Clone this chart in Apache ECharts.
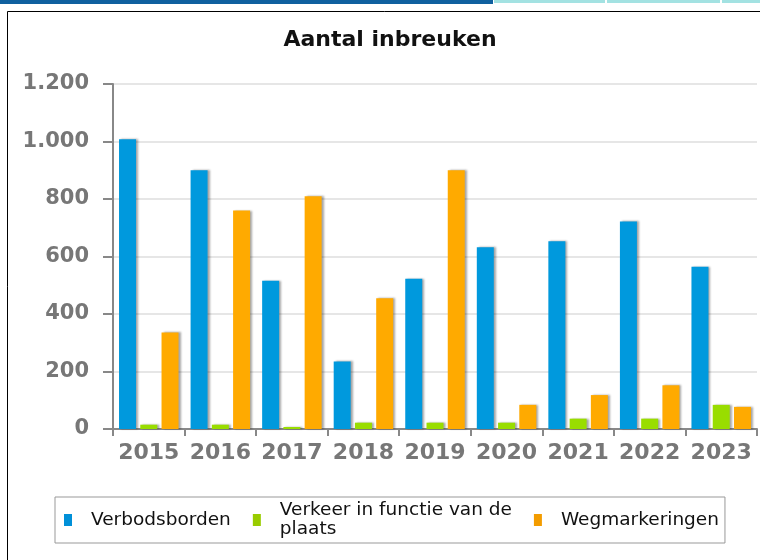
<!DOCTYPE html>
<html>
<head>
<meta charset="utf-8">
<script src="https://cdn.jsdelivr.net/npm/echarts@6/dist/echarts.min.js"></script>
<style>
html,body{margin:0;padding:0;background:#fff;}
#c{width:760px;height:560px;}
</style>
</head>
<body>
<div id="c"></div>
<script>
const categories = ['2015','2016','2017','2018','2019','2020','2021','2022','2023'];
const verbodsborden = [1008, 900, 516, 235, 523, 632, 653, 722, 564];
const verkeerPlaats = [15, 15, 7, 22, 22, 22, 36, 36, 84];
const wegmarkeringen = [336, 760, 810, 455, 900, 84, 118, 152, 77];
const seriesNames = ['Verbodsborden', 'Verkeer in functie van de\nplaats', 'Wegmarkeringen'];
const yTicks = { min: 0, max: 1200, interval: 200 };

const colors = ['#0099dd', '#99dd00', '#ffaa00'];
const legendColors = ['#0090d8', '#99cc00', '#f39c00'];

const chart = echarts.init(document.getElementById('c'), null, { renderer: 'canvas' });

const barStyle = (i) => ({
  color: colors[i],
  shadowColor: 'rgba(0,0,0,0.35)',
  shadowBlur: 2,
  shadowOffsetX: 2,
  shadowOffsetY: 0
});

const dataSets = [verbodsborden, verkeerPlaats, wegmarkeringen];

chart.setOption({
  animation: false,
  backgroundColor: '#fff',
  graphic: [
    { type: 'rect', shape: { x: 0, y: 0, width: 493, height: 4 }, style: { fill: '#10609f' }, silent: true },
    { type: 'rect', shape: { x: 494, y: 0, width: 111, height: 3 }, style: { fill: '#a3e2e2' }, silent: true },
    { type: 'rect', shape: { x: 607, y: 0, width: 113, height: 3 }, style: { fill: '#a3e2e2' }, silent: true },
    { type: 'rect', shape: { x: 722, y: 0, width: 38, height: 3 }, style: { fill: '#a3e2e2' }, silent: true },
    { type: 'rect', shape: { x: 7.5, y: 11.5, width: 800, height: 600 }, style: { fill: 'none', stroke: '#000', lineWidth: 1 }, silent: true }
  ],
  title: {
    text: 'Aantal inbreuken',
    left: 385,
    textAlign: 'center',
    top: 24,
    textStyle: { fontFamily: 'DejaVu Sans', fontWeight: 'bold', fontSize: 22, color: '#111' }
  },
  legend: {
    data: seriesNames.map((n, i) => ({ name: n, itemStyle: { color: legendColors[i] } })),
    left: 55,
    top: 497,
    width: 700,
    padding: [4, 6, 4, 9],
    borderColor: '#999',
    borderWidth: 1,
    itemWidth: 8,
    itemHeight: 12,
    itemGap: 22,
    icon: 'rect',
    textStyle: { fontFamily: 'DejaVu Sans', fontSize: 18.5, color: '#111', lineHeight: 19, padding: [0, 0, 0, 14] }
  },
  grid: { left: 113, right: 3, top: 84, bottom: 131, containLabel: false },
  xAxis: {
    type: 'category',
    data: categories,
    axisLine: { lineStyle: { color: '#888', width: 2 } },
    axisTick: { show: true, length: 7, lineStyle: { color: '#888', width: 2 } },
    axisLabel: { interval: 0, fontFamily: 'DejaVu Sans', fontWeight: 'bold', fontSize: 22, color: '#777', margin: 13 }
  },
  yAxis: {
    type: 'value',
    min: yTicks.min,
    max: yTicks.max,
    interval: yTicks.interval,
    axisLine: { show: true, lineStyle: { color: '#888', width: 2 } },
    axisTick: { show: true, length: 10, lineStyle: { color: '#888', width: 2 } },
    splitLine: { lineStyle: { color: '#e6e6e6', width: 2 } },
    axisLabel: {
      fontFamily: 'DejaVu Sans', fontWeight: 'bold', fontSize: 21, color: '#777', margin: 24,
      formatter: v => String(v).replace(/\B(?=(\d{3})+(?!\d))/g, '.')
    }
  },
  series: dataSets.map((d, i) => ({
    name: seriesNames[i],
    type: 'bar',
    data: d,
    barWidth: 17,
    barGap: '25%',
    itemStyle: barStyle(i)
  }))
});
</script>
</body>
</html>
